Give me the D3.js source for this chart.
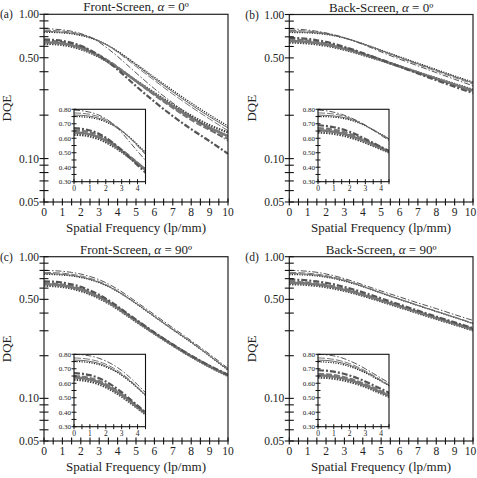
<!DOCTYPE html>
<html><head><meta charset="utf-8">
<script src="https://cdn.jsdelivr.net/npm/d3@7"></script>
<style>body{margin:0;background:#fff}svg{display:block}text{fill:#222}</style>
</head><body><svg id="c" width="477" height="478" font-family="'Liberation Serif', 'Times New Roman', Times, serif"></svg>
<script>
const freq = [0,0.5,1,1.5,2,2.5,3,3.5,4,4.5,5,6,7,8,9,10];
const seriesNames = ["upperDashDot","upperDash","upperSolid","upperDot","lowerDashDot","lowerDash","lowerSolid","lowerDot"];
const panelTitles = ["Front-Screen, ","Back-Screen, ","Front-Screen, ","Back-Screen, "];
const panelAngles = ["0º","0º","90º","90º"];
const panelLetters = ["(a)","(b)","(c)","(d)"];
const yTickLabels = ["0.05","0.10","0.50","1.00"];
const insetYTickLabels = ["0.30","0.40","0.50","0.60","0.70","0.80"];
const insetXTickLabels = ["0","1","2","3","4"];

// Panel (a) Front-Screen, alpha = 0
const aUpperDashDot = [.795,.79,.78,.763,.735,.695,.64,.575,.51,.448,.393,.305,.243,.196,.16,.132];
const aUpperDash    = [.775,.772,.765,.751,.729,.697,.655,.603,.546,.488,.435,.348,.28,.228,.188,.156];
const aUpperSolid   = [.76,.758,.752,.74,.72,.69,.652,.605,.552,.497,.446,.358,.29,.236,.195,.163];
const aUpperDot     = [.75,.748,.743,.732,.713,.686,.651,.607,.556,.503,.453,.366,.297,.243,.201,.168];
const aLowerDashDot = [.67,.665,.654,.634,.604,.564,.517,.466,.414,.363,.318,.248,.197,.16,.132,.108];
const aLowerDash    = [.655,.651,.641,.623,.596,.561,.52,.476,.43,.385,.344,.276,.225,.186,.158,.137];
const aLowerSolid   = [.64,.636,.627,.609,.584,.551,.512,.47,.427,.384,.345,.28,.23,.192,.164,.143];
const aLowerDot     = [.625,.622,.613,.597,.573,.542,.506,.466,.425,.384,.347,.285,.236,.198,.17,.152];

// Panel (b) Back-Screen, alpha = 0
const bUpperDashDot = [.795,.79,.78,.765,.745,.72,.69,.655,.62,.585,.55,.49,.44,.395,.355,.32];
const bUpperDash    = [.775,.773,.767,.757,.74,.717,.69,.658,.625,.592,.56,.5,.45,.405,.365,.33];
const bUpperSolid   = [.76,.758,.754,.746,.733,.713,.688,.658,.627,.595,.563,.505,.455,.41,.37,.335];
const bUpperDot     = [.75,.749,.746,.739,.727,.709,.686,.658,.628,.597,.566,.51,.46,.415,.375,.34];
const bLowerDashDot = [.69,.685,.676,.663,.645,.622,.595,.568,.54,.512,.485,.435,.39,.35,.315,.285];
const bLowerDash    = [.67,.666,.658,.646,.63,.61,.587,.562,.537,.511,.486,.438,.395,.357,.323,.293];
const bLowerSolid   = [.655,.652,.645,.634,.619,.6,.578,.555,.531,.507,.483,.437,.396,.359,.326,.297];
const bLowerDot     = [.64,.637,.631,.621,.607,.59,.57,.548,.525,.502,.48,.436,.397,.361,.329,.3];

// Panel (c) Front-Screen, alpha = 90
const cUpperDashDot = [.8,.797,.789,.775,.754,.725,.688,.642,.59,.535,.482,.39,.315,.255,.205,.163];
const cUpperDash    = [.775,.772,.765,.752,.732,.704,.668,.624,.574,.52,.47,.38,.308,.25,.2,.16];
const cUpperSolid   = [.76,.758,.751,.739,.72,.693,.659,.617,.569,.518,.468,.378,.306,.249,.2,.159];
const cUpperDot     = [.75,.748,.742,.731,.713,.688,.655,.614,.567,.516,.466,.377,.305,.248,.199,.158];
const cLowerDashDot = [.67,.666,.656,.638,.612,.578,.538,.493,.446,.4,.36,.292,.24,.2,.17,.147];
const cLowerDash    = [.65,.646,.636,.619,.594,.562,.525,.483,.439,.395,.356,.29,.239,.199,.169,.146];
const cLowerSolid   = [.64,.636,.626,.609,.585,.554,.518,.477,.434,.391,.353,.288,.238,.198,.168,.145];
const cLowerDot     = [.625,.621,.612,.596,.573,.543,.508,.469,.428,.386,.349,.286,.236,.197,.167,.144];

// Panel (d) Back-Screen, alpha = 90
const dUpperDashDot = [.8,.797,.789,.776,.755,.73,.7,.668,.635,.603,.573,.52,.472,.43,.39,.355];
const dUpperDash    = [.775,.772,.765,.753,.736,.713,.686,.655,.622,.589,.558,.503,.455,.413,.375,.34];
const dUpperSolid   = [.76,.758,.752,.741,.725,.704,.678,.649,.617,.585,.555,.5,.453,.411,.373,.338];
const dUpperDot     = [.748,.746,.741,.731,.716,.696,.672,.644,.614,.583,.553,.5,.452,.41,.372,.337];
const dLowerDashDot = [.69,.687,.68,.669,.654,.635,.612,.587,.561,.534,.508,.46,.416,.378,.344,.313];
const dLowerDash    = [.665,.662,.656,.646,.632,.614,.593,.57,.545,.52,.496,.45,.409,.372,.339,.309];
const dLowerSolid   = [.655,.652,.646,.636,.622,.605,.584,.562,.538,.514,.49,.446,.405,.369,.336,.306];
const dLowerDot     = [.64,.638,.632,.623,.61,.594,.575,.553,.53,.507,.484,.44,.4,.364,.332,.302];

const panelData = [
  [aUpperDashDot,aUpperDash,aUpperSolid,aUpperDot,aLowerDashDot,aLowerDash,aLowerSolid,aLowerDot],
  [bUpperDashDot,bUpperDash,bUpperSolid,bUpperDot,bLowerDashDot,bLowerDash,bLowerSolid,bLowerDot],
  [cUpperDashDot,cUpperDash,cUpperSolid,cUpperDot,cLowerDashDot,cLowerDash,cLowerSolid,cLowerDot],
  [dUpperDashDot,dUpperDash,dUpperSolid,dUpperDot,dLowerDashDot,dLowerDash,dLowerSolid,dLowerDot]
];

const styles = [
  {w:1.0, c:"#555", dash:"6,2,1.5,2"},
  {w:1.0, c:"#777", dash:"7,2"},
  {w:1.0, c:"#666", dash:null},
  {w:1.2, c:"#222", dash:"1.2,1.3"},
  {w:2.2, c:"#555", dash:"6,2,2,2"},
  {w:2.2, c:"#777", dash:"6,2"},
  {w:2.4, c:"#777", dash:null},
  {w:2.4, c:"#444", dash:"1.5,1.2"}
];

const layouts = [
  {x0:44, x1:228, y0:14.3, y1:202, ix0:74, ix1:145.5, iy0:109.3, iy1:181.7},
  {x0:289.3, x1:473, y0:14.5, y1:202, ix0:318, ix1:389, iy0:109.3, iy1:181.7},
  {x0:44, x1:228, y0:256.7, y1:441, ix0:74, ix1:145.5, iy0:354.3, iy1:426.7},
  {x0:289.3, x1:473, y0:256.7, y1:441, ix0:318, ix1:389, iy0:354.3, iy1:426.7}
];

const svg = d3.select("#c");
const defs = svg.append("defs");

layouts.forEach((L, p) => {
  const g = svg.append("g");
  const x = d3.scaleLinear().domain([0,10]).range([L.x0, L.x1]);
  const y = d3.scaleLog().domain([0.05,1]).range([L.y1, L.y0]);
  const series = panelData[p].map((vals,i)=>({i, pts: freq.map((f,k)=>({f, v: vals[k]}))}));

  defs.append("clipPath").attr("id","m"+p).append("rect")
    .attr("x",L.x0).attr("y",L.y0).attr("width",L.x1-L.x0).attr("height",L.y1-L.y0);

  const line = d3.line().x(d=>x(d.f)).y(d=>y(d.v)).curve(d3.curveMonotoneX);
  const cg = g.append("g").attr("clip-path","url(#m"+p+")");
  series.slice().reverse().forEach(s => {
    const st = styles[s.i];
    cg.append("path").attr("d", line(s.pts)).attr("fill","none")
      .attr("stroke", st.c).attr("stroke-width", st.w)
      .attr("stroke-dasharray", st.dash);
  });

  g.append("rect").attr("x",L.x0).attr("y",L.y0).attr("width",L.x1-L.x0).attr("height",L.y1-L.y0)
    .attr("fill","none").attr("stroke","#222").attr("stroke-width",1.2);

  const yTicks = [];
  for (let k=5;k<=9;k++) yTicks.push(k/100);
  for (let k=1;k<=10;k++) yTicks.push(k/10);
  const ya = g.append("g");
  ya.selectAll("line").data(yTicks).join("line")
    .attr("x1",L.x0-4.5).attr("x2",L.x0+4.5)
    .attr("y1",d=>y(d)).attr("y2",d=>y(d)).attr("stroke","#111").attr("stroke-width",1.1);
  ya.selectAll("text").data(yTickLabels).join("text")
    .attr("x",L.x0-5).attr("y",d=>y(+d)+4).attr("text-anchor","end")
    .attr("font-size",11.5).text(d=>d);

  const xTicks = d3.range(0,10.01,0.5);
  const xa = g.append("g");
  xa.selectAll("line").data(xTicks).join("line")
    .attr("x1",d=>x(d)).attr("x2",d=>x(d)).attr("y1",L.y1-3.5).attr("y2",L.y1+3.5)
    .attr("stroke","#111").attr("stroke-width",1.1);
  xa.selectAll("text").data(d3.range(0,11)).join("text")
    .attr("x",d=>Math.min(x(d), 470.5)).attr("y",L.y1+14).attr("text-anchor","middle")
    .attr("font-size",11.5).text(d=>d);

  const t = g.append("text").attr("x",(L.x0+L.x1)/2).attr("y",L.y0-3)
    .attr("text-anchor","middle").attr("font-size",13);
  t.append("tspan").text(panelTitles[p]);
  t.append("tspan").attr("font-style","italic").text("α");
  t.append("tspan").text(" = " + panelAngles[p]);
  g.append("text").attr("x",L.x0-44).attr("y",L.y0+4).attr("font-size",11.5).text(panelLetters[p]);
  g.append("text").attr("transform",`translate(${L.x0-33},${(L.y0+L.y1)/2}) rotate(-90)`)
    .attr("text-anchor","middle").attr("font-size",13).text("DQE");
  g.append("text").attr("x",(L.x0+L.x1)/2).attr("y",L.y1+30)
    .attr("text-anchor","middle").attr("font-size",13).text("Spatial Frequency (lp/mm)");

  const ix = d3.scaleLinear().domain([0,4.5]).range([L.ix0, L.ix1]);
  const iy = d3.scaleLinear().domain([0.3,0.8]).range([L.iy1, L.iy0]);
  g.append("rect").attr("x",L.ix0).attr("y",L.iy0).attr("width",L.ix1-L.ix0).attr("height",L.iy1-L.iy0)
    .attr("fill","#fff");
  defs.append("clipPath").attr("id","i"+p).append("rect")
    .attr("x",L.ix0).attr("y",L.iy0).attr("width",L.ix1-L.ix0).attr("height",L.iy1-L.iy0);
  const iline = d3.line().x(d=>ix(d.f)).y(d=>iy(d.v)).curve(d3.curveMonotoneX);
  const ig = g.append("g").attr("clip-path","url(#i"+p+")");
  series.slice().reverse().forEach(s => {
    const st = styles[s.i];
    ig.append("path").attr("d", iline(s.pts.filter(d=>d.f<=6))).attr("fill","none")
      .attr("stroke", st.c).attr("stroke-width", st.w)
      .attr("stroke-dasharray", st.dash);
  });
  g.append("rect").attr("x",L.ix0).attr("y",L.iy0).attr("width",L.ix1-L.ix0).attr("height",L.iy1-L.iy0)
    .attr("fill","none").attr("stroke","#111").attr("stroke-width",1.1);
  const iyT = d3.range(0.3,0.801,0.05);
  g.append("g").selectAll("line").data(iyT).join("line")
    .attr("x1",L.ix0-2.5).attr("x2",L.ix0+2.5).attr("y1",d=>iy(d)).attr("y2",d=>iy(d))
    .attr("stroke","#111").attr("stroke-width",1);
  g.append("g").selectAll("text").data(insetYTickLabels).join("text")
    .attr("x",L.ix0-3).attr("y",d=>iy(+d)+2.5).attr("text-anchor","end")
    .attr("font-size",7).text(d=>d);
  const ixT = d3.range(0,4.51,0.5);
  g.append("g").selectAll("line").data(ixT).join("line")
    .attr("x1",d=>ix(d)).attr("x2",d=>ix(d)).attr("y1",L.iy1-2.5).attr("y2",L.iy1+2.5)
    .attr("stroke","#111").attr("stroke-width",1);
  g.append("g").selectAll("text").data(insetXTickLabels).join("text")
    .attr("x",d=>ix(+d)).attr("y",L.iy1+9.5).attr("text-anchor","middle")
    .attr("font-size",7.5).text(d=>d);
});
</script></body></html>
